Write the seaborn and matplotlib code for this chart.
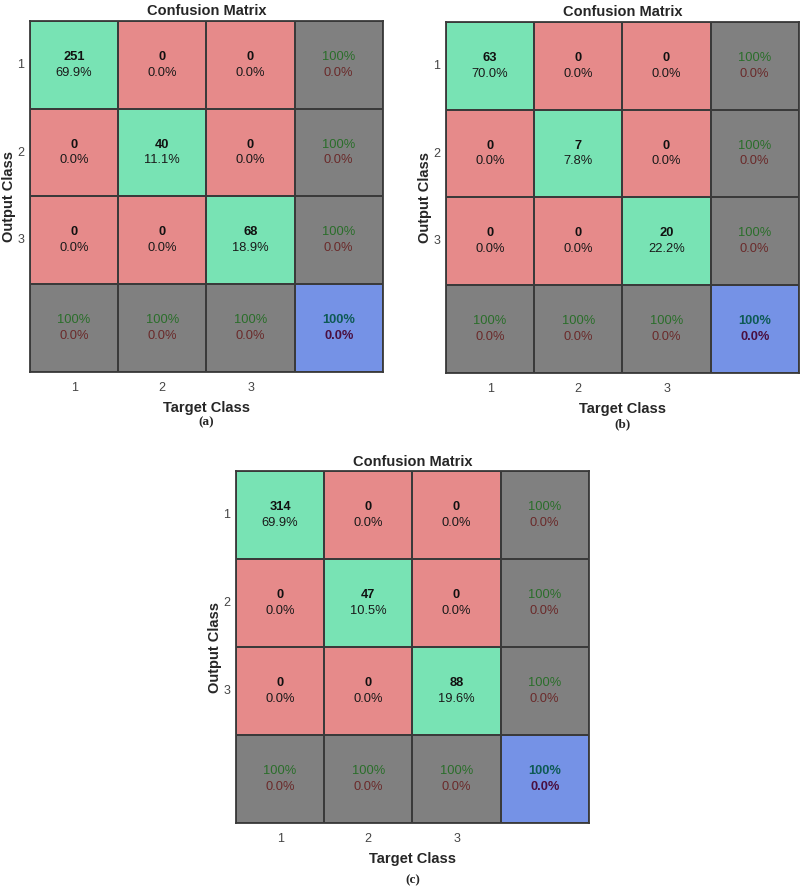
import numpy as np
import pandas as pd
import matplotlib
matplotlib.use("Agg")
import matplotlib.pyplot as plt
import seaborn as sns
from matplotlib.colors import ListedColormap

# ---------------- data ----------------
classes = ["1", "2", "3"]
counts_a = [[251, 0, 0], [0, 40, 0], [0, 0, 68]]
pct_a = [["69.9%", "0.0%", "0.0%"], ["0.0%", "11.1%", "0.0%"], ["0.0%", "0.0%", "18.9%"]]
counts_b = [[63, 0, 0], [0, 7, 0], [0, 0, 20]]
pct_b = [["70.0%", "0.0%", "0.0%"], ["0.0%", "7.8%", "0.0%"], ["0.0%", "0.0%", "22.2%"]]
counts_c = [[314, 0, 0], [0, 47, 0], [0, 0, 88]]
pct_c = [["69.9%", "0.0%", "0.0%"], ["0.0%", "10.5%", "0.0%"], ["0.0%", "0.0%", "19.6%"]]
row_correct = ["100%", "100%", "100%"]
row_wrong = ["0.0%", "0.0%", "0.0%"]
col_correct = ["100%", "100%", "100%"]
col_wrong = ["0.0%", "0.0%", "0.0%"]
overall_correct = "100%"
overall_wrong = "0.0%"
panel_labels = ["(a)", "(b)", "(c)"]

# ---------------- style ----------------
sns.set_style("white")
plt.rcParams["font.family"] = ["Liberation Sans", "DejaVu Sans"]

C_RED = "#E68A8A"
C_GREEN = "#78E3B4"
C_GRAY = "#808080"
C_BLUE = "#7592E6"
cmap = ListedColormap([C_RED, C_GREEN, C_GRAY, C_BLUE])
T_GREEN = "#2A6E2A"
T_RED = "#6A2A2A"
T_TEAL = "#0E5A55"
T_PURPLE = "#4A1040"

fig = plt.figure(figsize=(8.0, 8.91), dpi=100)

positions = [
    [0.0375, 0.5825, 0.441, 0.394],
    [0.5575, 0.5814, 0.441, 0.394],
    [0.295, 0.0763, 0.441, 0.395],
]
label_y = [1 - 422 / 891, 1 - 424 / 891, 1 - 880 / 891]
datasets = [(counts_a, pct_a), (counts_b, pct_b), (counts_c, pct_c)]

for k, ((cnt, pct), pos) in enumerate(zip(datasets, positions)):
    n = len(classes)
    cat = np.full((n + 1, n + 1), 2)
    for i in range(n):
        for j in range(n):
            cat[i, j] = 1 if i == j else 0
    cat[n, n] = 3
    df = pd.DataFrame(cat, index=classes + [""], columns=classes + [""])
    ax = fig.add_axes(pos)
    sns.heatmap(df, ax=ax, cmap=cmap, vmin=-0.5, vmax=3.5, cbar=False,
                linewidths=1.3, linecolor="#3a3a3a", square=False)
    for s in ax.spines.values():
        s.set_visible(True)
        s.set_color("#3a3a3a")
        s.set_linewidth(1.3)
    off = 0.09
    fs = 9.3
    for i in range(n):
        for j in range(n):
            ax.text(j + 0.5, i + 0.5 - off, str(cnt[i][j]), ha="center", va="center",
                    fontsize=fs, fontweight="bold", color="#111111")
            ax.text(j + 0.5, i + 0.5 + off, pct[i][j], ha="center", va="center",
                    fontsize=fs, color="#1a1a1a")
        ax.text(n + 0.5, i + 0.5 - off, row_correct[i], ha="center", va="center",
                fontsize=fs, color=T_GREEN)
        ax.text(n + 0.5, i + 0.5 + off, row_wrong[i], ha="center", va="center",
                fontsize=fs, color=T_RED)
        ax.text(i + 0.5, n + 0.5 - off, col_correct[i], ha="center", va="center",
                fontsize=fs, color=T_GREEN)
        ax.text(i + 0.5, n + 0.5 + off, col_wrong[i], ha="center", va="center",
                fontsize=fs, color=T_RED)
    ax.text(n + 0.5, n + 0.5 - off, overall_correct, ha="center", va="center",
            fontsize=fs, fontweight="bold", color=T_TEAL)
    ax.text(n + 0.5, n + 0.5 + off, overall_wrong, ha="center", va="center",
            fontsize=fs, fontweight="bold", color=T_PURPLE)

    ax.set_title("Confusion Matrix", fontsize=10.5, fontweight="bold", pad=4)
    ax.set_xlabel("Target Class", fontsize=10.5, fontweight="bold", labelpad=5)
    ax.set_ylabel("Output Class", fontsize=10.5, fontweight="bold", labelpad=1)
    ax.tick_params(axis="x", length=0, labelsize=9, colors="#444444", pad=7)
    ax.tick_params(axis="y", length=0, labelsize=9, colors="#444444", pad=4)
    ax.set_yticklabels(ax.get_yticklabels(), rotation=0)
    ax.set_xticklabels(ax.get_xticklabels(), rotation=0)

    cx = pos[0] + pos[2] / 2
    fig.text(cx, label_y[k], panel_labels[k], ha="center", va="center", fontsize=9.5,
             fontweight="bold", family=["Liberation Serif", "DejaVu Serif"])

fig.savefig("out.png", dpi=100)
